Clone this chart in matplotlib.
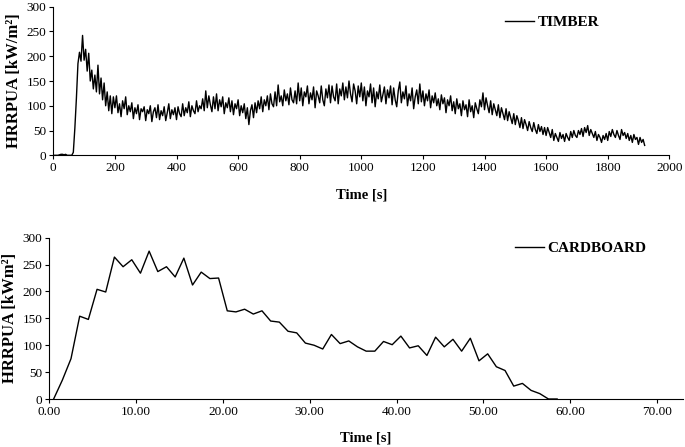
import numpy as np
import matplotlib
matplotlib.use("Agg")
import matplotlib.pyplot as plt

plt.rcParams['font.family'] = ['Liberation Serif', 'DejaVu Serif']

# ---- TIMBER data (time step 5 s, 0..1920 s) ----
timber_step = 5
timber_hrr = [
    0, 0, 0, 0, 1, 2, 2, 1, 2, 0, 0, 0, 0, 6, 55, 115, 185, 208, 190, 242,
    192, 214, 170, 206, 150, 172, 134, 162, 128, 182, 124, 156, 112, 146, 100, 128, 90, 120, 84, 118,
    96, 120, 86, 104, 78, 110, 94, 118, 82, 100, 88, 106, 74, 96, 84, 102, 72, 94, 88, 98,
    70, 92, 84, 100, 68, 88, 96, 76, 102, 72, 90, 80, 98, 70, 86, 104, 74, 92, 82, 96,
    72, 98, 84, 78, 104, 80, 96, 86, 108, 78, 100, 90, 84, 110, 88, 100, 94, 114, 90, 130,
    96, 120, 102, 88, 118, 94, 124, 90, 112, 98, 118, 84, 106, 96, 116, 88, 110, 82, 104, 94,
    112, 80, 100, 86, 104, 74, 96, 62, 90, 102, 76, 106, 86, 110, 94, 118, 88, 112, 100, 120,
    92, 124, 104, 98, 128, 100, 142, 108, 120, 100, 132, 110, 124, 102, 136, 112, 106, 130, 104, 146,
    110, 136, 100, 128, 118, 140, 104, 126, 112, 138, 96, 130, 120, 106, 140, 112, 100, 134, 116, 142,
    106, 140, 118, 110, 144, 104, 134, 120, 146, 112, 138, 116, 150, 124, 108, 144, 130, 104, 140, 118,
    146, 110, 138, 100, 130, 118, 144, 106, 136, 98, 128, 114, 142, 108, 122, 138, 104, 132, 116, 140,
    102, 136, 112, 98, 130, 148, 106, 128, 114, 140, 100, 124, 110, 136, 94, 118, 132, 104, 144, 108,
    130, 100, 124, 110, 132, 96, 120, 106, 126, 100, 114, 92, 122, 104, 116, 86, 112, 100, 120, 90,
    108, 84, 114, 94, 104, 80, 110, 92, 102, 78, 112, 88, 100, 76, 106, 94, 84, 112, 98, 126,
    92, 116, 100, 86, 110, 82, 104, 92, 80, 102, 76, 96, 84, 72, 94, 70, 88, 76, 64, 84,
    62, 80, 70, 56, 76, 54, 72, 62, 50, 68, 56, 48, 66, 52, 44, 62, 48, 58, 42, 56,
    40, 56, 46, 36, 52, 30, 44, 36, 28, 46, 34, 42, 28, 44, 36, 30, 48, 36, 50, 40,
    36, 50, 42, 54, 38, 56, 46, 60, 40, 52, 44, 36, 48, 30, 42, 36, 26, 40, 32, 44,
    30, 48, 38, 52, 42, 36, 50, 40, 32, 52, 40, 46, 34, 44, 30, 40, 26, 42, 32, 36,
    22, 36, 26, 32, 20,
]
timber_time = np.arange(len(timber_hrr)) * timber_step

# ---- CARDBOARD data ----
cardboard_time = [k + 0.5 for k in range(59)]
cardboard_hrr = [
    0, 35, 75, 154, 148, 204, 199, 264, 246, 259,
    234, 275, 237, 246, 227, 262, 212, 236, 224, 225,
    164, 162, 167, 158, 164, 145, 143, 126, 123, 104,
    100, 93, 120, 103, 108, 97, 89, 89, 107, 101,
    117, 95, 99, 81, 115, 97, 111, 89, 113, 71,
    84, 60, 53, 24, 29, 16, 10, 0, 0,
]

top_xticks = list(range(0, 2001, 200))
bot_xticks = [0, 10, 20, 30, 40, 50, 60, 70]
yticks = [0, 50, 100, 150, 200, 250, 300]

W, H = 685, 447
fig = plt.figure(figsize=(W / 100, H / 100), dpi=100)

def style(ax):
    ax.spines['top'].set_visible(False)
    ax.spines['right'].set_visible(False)
    for s in ('left', 'bottom'):
        ax.spines[s].set_linewidth(0.8)
    ax.tick_params(direction='out', length=3, width=0.8, labelsize=9.5, pad=2)
    ax.set_yticks(yticks)
    ax.set_ylim(0, 300)

# Top axes
ax1 = fig.add_axes([53.3 / W, (H - 155.3) / H, 616 / W, 148.6 / H])
ax1.plot(timber_time, timber_hrr, color='black', lw=1.0, label='TIMBER')
style(ax1)
ax1.set_xlim(0, 2000)
ax1.set_xticks(top_xticks)
ax1.set_xlabel('Time [s]', fontweight='bold', fontsize=10.5, labelpad=10)
ax1.set_ylabel('HRRPUA [kW/m²]', fontweight='bold', fontsize=12, labelpad=3)
ax1.legend(loc='center left', bbox_to_anchor=(491 / W, 1 - 22 / H), bbox_transform=fig.transFigure,
           frameon=False, handlelength=1.9, handletextpad=0.26, prop={'weight': 'bold', 'size': 11})

# Bottom axes
ax2 = fig.add_axes([49.3 / W, (H - 399) / H, 633.7 / W, 161.3 / H])
ax2.plot(cardboard_time, cardboard_hrr, color='black', lw=1.0, label='CARDBOARD')
style(ax2)
ax2.set_xlim(0, 73)
ax2.set_xticks(bot_xticks)
ax2.set_xticklabels([f'{v:.2f}' for v in bot_xticks])
ax2.set_xlabel('Time [s]', fontweight='bold', fontsize=10.5, labelpad=10)
ax2.set_ylabel('HRRPUA [kWm²]', fontweight='bold', fontsize=12, labelpad=3)
ax2.legend(loc='center left', bbox_to_anchor=(501 / W, 1 - 248 / H), bbox_transform=fig.transFigure,
           frameon=False, handlelength=1.9, handletextpad=0.26, prop={'weight': 'bold', 'size': 11})

fig.savefig('out.png', dpi=100)
